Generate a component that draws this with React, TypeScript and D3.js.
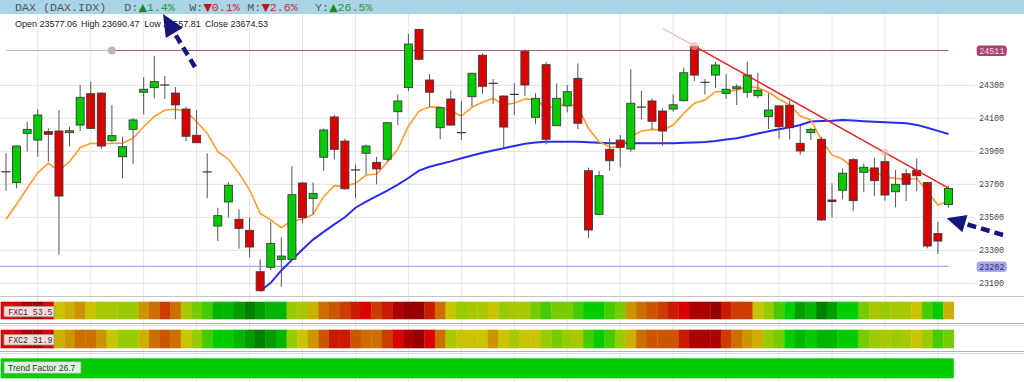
import React from 'react';
import * as d3 from 'd3';

// ---------- DATA ----------
const opens = [23776, 23710, 24009, 23968, 24019, 24023, 24013, 24059, 24249, 24253,
  23964, 23867, 24033, 24258, 24286, 24302, 24253, 24156, 23997, 23775,
  23447, 23593, 23488, 23421, 23170, 23197, 23245, 23245, 23708, 23615,
  23864, 24108, 23962, 23787, 23888, 23833, 23852, 24140, 24286, 24639,
  24332, 24043, 24217, 24013, 24231, 24482, 24312, 24235, 24245, 24504,
  24106, 24425, 24055, 24175, 24342, 23782, 23518, 23912, 23968, 23914,
  24168, 24205, 24144, 24156, 24207, 24534, 24318, 24362, 24251, 24279,
  24258, 24237, 24110, 24175, 24179, 23948, 24013, 23973, 23605, 23664,
  23849, 23773, 23799, 23837, 23655, 23764, 23785, 23710, 23401, 23577.06];
const highs = [23888, 23935, 24079, 24155, 24039, 24150, 24049, 24302, 24322, 24256,
  24181, 23989, 24100, 24349, 24479, 24356, 24290, 24170, 24149, 23888,
  23558, 23712, 23548, 23498, 23245, 23473, 23379, 23811, 23712, 23712,
  24039, 24120, 23976, 23821, 23942, 23867, 24076, 24245, 24611, 24641,
  24368, 24168, 24270, 24205, 24376, 24494, 24338, 24238, 24312, 24518,
  24251, 24443, 24312, 24302, 24433, 23801, 23781, 23979, 23999, 24397,
  24267, 24221, 24161, 24245, 24407, 24538, 24338, 24443, 24367, 24306,
  24443, 24376, 24251, 24178, 24207, 24059, 24043, 23989, 23706, 23797,
  23858, 23827, 23861, 23892, 23787, 23793, 23855, 23712, 23473, 23690.47];
const lows = [23661, 23676, 23898, 23867, 23837, 23272, 23928, 24023, 24035, 23914,
  23958, 23736, 23821, 24124, 24221, 24217, 24094, 23962, 23950, 23615,
  23356, 23500, 23310, 23258, 23052, 23181, 23079, 23243, 23464, 23518,
  23782, 23852, 23668, 23615, 23761, 23700, 23837, 24059, 24265, 24451,
  24170, 23973, 24057, 23968, 24170, 24249, 24188, 23918, 24120, 24235,
  24064, 23942, 24053, 24136, 24035, 23373, 23516, 23782, 23803, 23898,
  24094, 24035, 23934, 24140, 24201, 24326, 24245, 24282, 24217, 24181,
  24225, 24221, 24035, 23975, 23973, 23878, 23968, 23479, 23500, 23609,
  23540, 23652, 23629, 23601, 23561, 23599, 23659, 23312, 23278, 23557.81];
const closes = [23776, 23932, 24033, 24120, 24003, 23629, 24025, 24227, 24039, 23932,
  23995, 23928, 24090, 24276, 24322, 24302, 24181, 23991, 23952, 23775,
  23510, 23694, 23433, 23320, 23055, 23342, 23265, 23637, 23498, 23645,
  24029, 23912, 23673, 23787, 23932, 23793, 24073, 24205, 24550, 24458,
  24258, 24164, 24059, 24013, 24373, 24294, 24312, 24047, 24245, 24302,
  24221, 23973, 24221, 24261, 24070, 23423, 23752, 23843, 23924, 24191,
  24168, 24082, 24023, 24182, 24376, 24362, 24318, 24423, 24276, 24291,
  24362, 24270, 24150, 24049, 24043, 23902, 24033, 23484, 23595, 23767,
  23601, 23803, 23722, 23635, 23700, 23700, 23752, 23326, 23356, 23674.53];

// orange moving average (one value per candle)
const maFast = [23488, 23579, 23676, 23770, 23827, 23782, 23837, 23922, 23949, 23944,
  23949, 23949, 23979, 24049, 24110, 24150, 24155, 24144, 24079, 24009,
  23898, 23852, 23767, 23666, 23524, 23484, 23437, 23478, 23488, 23518,
  23625, 23692, 23688, 23706, 23756, 23762, 23833, 23914, 24053, 24144,
  24170, 24168, 24144, 24114, 24168, 24197, 24221, 24181, 24193, 24217,
  24215, 24161, 24173, 24189, 24167, 24039, 23958, 23926, 23922, 23989,
  24023, 24033, 24029, 24059, 24130, 24191, 24211, 24261, 24261, 24272,
  24292, 24286, 24258, 24217, 24181, 24114, 24090, 23968, 23878, 23852,
  23799, 23793, 23776, 23746, 23736, 23730, 23736, 23655, 23575, 23599];

// blue moving average, starts at candle 24
const maSlowStart = 24;
const maSlow = [23053, 23103, 23178, 23242, 23305, 23365, 23412, 23457, 23500, 23558,
  23595, 23629, 23662, 23698, 23738, 23783, 23806, 23823, 23839, 23858,
  23875, 23891, 23905, 23919, 23932, 23946, 23954, 23958, 23958, 23958,
  23958, 23955, 23952, 23949, 23949, 23949, 23949, 23949, 23949, 23949,
  23952, 23954, 23957, 23963, 23972, 23979, 23993, 24008, 24021, 24033,
  24045, 24059, 24080, 24084, 24085, 24089, 24086, 24082, 24079, 24076,
  24073, 24070, 24060, 24043, 24024, 24005];

const yTicks = [23100, 23300, 23500, 23700, 23900, 24100, 24300];
const resistanceLevel = 24511;
const resistanceAnchor = 10;
const supportLevel = 23202;

// down trendline anchors (candle index, price)
const trendAnchorIdx = [65, 83];
const trendAnchorVal = [24538, 23892];
const trendFrom = 62;
const trendTo = 89;

// FXC heat levels (0 = darkest red ... 17 = darkest green)
const fxc1 = [2, 2, 1, 0, 2, 9, 8, 7, 9, 10, 10, 11, 11, 7, 6, 4, 6, 10, 12, 13,
  15, 15, 16, 17, 16, 15, 15, 11, 10, 8, 6, 5, 4, 3, 2, 4, 3, 1, 0, 0,
  3, 6, 9, 11, 10, 10, 9, 11, 10, 10, 12, 13, 12, 12, 13, 14, 14, 13, 12, 7,
  6, 5, 4, 3, 2, 1, 1, 0, 3, 4, 4, 9, 11, 13, 14, 16, 15, 17, 16, 14,
  14, 12, 10, 11, 10, 10, 9, 13, 14, 8];
const fxc2 = [2, 2, 1, 1, 2, 8, 7, 6, 6, 7, 9, 11, 11, 8, 6, 5, 6, 9, 11, 13,
  14, 14, 15, 16, 17, 16, 15, 11, 9, 7, 5, 3, 3, 5, 6, 6, 4, 2, 1, 0,
  2, 6, 10, 9, 9, 9, 7, 9, 10, 9, 9, 11, 12, 11, 10, 13, 14, 13, 11, 8,
  6, 5, 5, 5, 3, 1, 1, 1, 4, 6, 7, 8, 11, 12, 14, 15, 14, 15, 15, 14,
  14, 12, 11, 10, 11, 10, 9, 11, 13, 12];
const levelColors = ['#990000', '#ad0000', '#dd0000', '#cc1a00', '#cc3c00', '#cc5500',
  '#cc6e00', '#cc9500', '#ccb000', '#c8c400', '#aac800', '#99cc00', '#77cc00',
  '#44cc00', '#00cc00', '#00b400', '#009c00', '#008000'];
const fxc1Value = 53.5;
const fxc2Value = 31.9;
const trendFactor = 26.7;

const symbolName = 'DAX (DAX.IDX)';
const perfLabels = ['D:', 'W:', 'M:', 'Y:'];
const perfValues = [1.4, -0.1, -2.6, 26.5];

// ---------- COMPONENT ----------
export default function App() {
  const W = 1024, H = 382;
  const n = closes.length;
  const x = d3.scaleBand<number>().domain(d3.range(n)).range([0.7, 953.8]);
  const bw = x.bandwidth();
  const cx = (i: number) => (x(i) as number) + bw / 2;
  const y = d3.scaleLinear().domain([23100, 24300]).range([283.3, 85.3]);

  const lineFast = d3.line<number>().x((_, i) => cx(i)).y((d) => y(d));
  const lineSlow = d3.line<number>().x((_, i) => cx(i + maSlowStart)).y((d) => y(d));
  const trendVal = d3.scaleLinear().domain(trendAnchorIdx).range(trendAnchorVal);

  const gridIdx = d3.range(3, n, 5);
  const mono = '"Liberation Mono", "DejaVu Sans Mono", monospace';
  const sans = '"Liberation Sans", Arial, sans-serif';

  const arrow = (tail: [number, number], tip: [number, number], hl: number, hw: number) => {
    const dx = tip[0] - tail[0], dy = tip[1] - tail[1];
    const len = Math.hypot(dx, dy);
    const ux = dx / len, uy = dy / len;
    const bx = tip[0] - ux * hl, by = tip[1] - uy * hl;
    const px = -uy, py = ux;
    return (
      <g>
        <line x1={tail[0]} y1={tail[1]} x2={bx + ux * 2} y2={by + uy * 2} stroke="#15157a" strokeWidth={4.5} strokeDasharray="9 5" />
        <polygon points={`${tip[0]},${tip[1]} ${bx + px * hw},${by + py * hw} ${bx - px * hw},${by - py * hw}`} fill="#15157a" />
      </g>
    );
  };

  const perfX = [124.3, 189.3, 247.3, 315];

  return (
    <svg width={W} height={H} style={{ position: 'absolute', left: 0, top: 0, background: '#fff' }}>
      {/* vertical grid */}
      {gridIdx.map((i) => (
        <line key={'vg' + i} x1={cx(i)} x2={cx(i)} y1={14} y2={H} stroke="#e6e6e6" strokeWidth={1} />
      ))}
      {/* horizontal grid */}
      {yTicks.map((t) => (
        <line key={'hg' + t} x1={0} x2={975} y1={y(t)} y2={y(t)} stroke="#e2e2e2" strokeWidth={1} />
      ))}
      {/* y labels */}
      {yTicks.map((t) => (
        <text key={'yl' + t} x={979} y={y(t) + 3} fontFamily={mono} fontSize={8.4} fill="#444">{t}</text>
      ))}

      {/* header bar */}
      <rect x={0} y={0} width={W} height={14} fill="#a9d4e8" />
      <text x={15} y={10.5} fontFamily={mono} fontSize={11.7} fill="#555">{symbolName}</text>
      {perfLabels.map((lb, k) => {
        const up = perfValues[k] >= 0;
        const col = up ? '#2f962f' : '#cc2a2a';
        return (
          <text key={'pf' + k} y={10.5} fontFamily={mono} fontSize={11.7}>
            <tspan x={perfX[k]} fill="#555">{lb}</tspan>
            <tspan x={perfX[k] + 14.2} fill={up ? '#1f861f' : '#c01818'} fontSize={11} fontFamily={'"DejaVu Sans", sans-serif'}>{up ? '▲' : '▼'}</tspan>
            <tspan x={perfX[k] + 22.5} fill={col}>{Math.abs(perfValues[k]).toFixed(1) + '%'}</tspan>
          </text>
        );
      })}
      {/* OHLC line */}
      <text y={26.5} fontFamily={sans} fontSize={9} fill="#222">
        <tspan x={15}>{'Open ' + opens[n - 1].toFixed(2)}</tspan>
        <tspan x={81}>{'High ' + highs[n - 1].toFixed(2)}</tspan>
        <tspan x={144.3}>{'Low ' + lows[n - 1].toFixed(2)}</tspan>
        <tspan x={205}>{'Close ' + closes[n - 1].toFixed(2)}</tspan>
      </text>

      {/* horizontal levels */}
      <line x1={cx(0)} x2={cx(resistanceAnchor)} y1={y(resistanceLevel)} y2={y(resistanceLevel)} stroke="#cfb0bb" strokeWidth={1.2} />
      <line x1={cx(resistanceAnchor)} x2={cx(n - 1)} y1={y(resistanceLevel)} y2={y(resistanceLevel)} stroke="#a3647f" strokeWidth={1.2} />
      <circle cx={cx(resistanceAnchor)} cy={y(resistanceLevel)} r={4} fill="#c0b4b8" />
      <line x1={0} x2={cx(n - 1)} y1={y(supportLevel)} y2={y(supportLevel)} stroke="#a9a9f2" strokeWidth={1.2} />
      <rect x={976.7} y={y(resistanceLevel) - 5} width={30} height={10.5} rx={3} fill="#a8446e" />
      <text x={979.3} y={y(resistanceLevel) + 3.2} fontFamily={mono} fontSize={8.4} fill="#f6d6e6">{resistanceLevel}</text>
      <rect x={976.7} y={y(supportLevel) - 5} width={30} height={10.5} rx={3} fill="#a6a6f6" />
      <text x={979.3} y={y(supportLevel) + 3.2} fontFamily={mono} fontSize={8.4} fill="#33335a">{supportLevel}</text>

      {/* moving averages */}
      <path d={lineSlow(maSlow) || ''} fill="none" stroke="#2b2bf0" strokeWidth={2} />
      <path d={lineFast(maFast) || ''} fill="none" stroke="#ff9a2e" strokeWidth={1.6} />

      {/* candles */}
      {closes.map((c, i) => {
        const o = opens[i];
        const xc = cx(i);
        const wick = <line x1={xc} x2={xc} y1={y(highs[i])} y2={y(lows[i])} stroke="#555" strokeWidth={1} />;
        if (o === c) {
          return (
            <g key={'c' + i}>
              {wick}
              <line x1={xc - 4.5} x2={xc + 4.5} y1={y(o)} y2={y(o)} stroke="#333" strokeWidth={1.2} />
            </g>
          );
        }
        const top = y(Math.max(o, c));
        const h = Math.max(1.2, Math.abs(y(o) - y(c)));
        return (
          <g key={'c' + i}>
            {wick}
            <rect x={xc - 4} y={top} width={8} height={h} fill={c > o ? '#00cc00' : '#d90000'} stroke="#3a3a3a" strokeWidth={0.9} />
          </g>
        );
      })}

      {/* trendline */}
      <line x1={cx(trendFrom)} y1={y(trendVal(trendFrom))} x2={cx(trendAnchorIdx[0])} y2={y(trendVal(trendAnchorIdx[0]))} stroke="#f2b4b4" strokeWidth={1.3} />
      <line x1={cx(trendAnchorIdx[0])} y1={y(trendVal(trendAnchorIdx[0]))} x2={cx(trendTo)} y2={y(trendVal(trendTo))} stroke="#e22626" strokeWidth={1.5} />
      <circle cx={cx(trendAnchorIdx[0])} cy={y(trendVal(trendAnchorIdx[0]))} r={4} fill="#f4a8a8" opacity={0.6} />
      <circle cx={cx(trendAnchorIdx[1])} cy={y(trendVal(trendAnchorIdx[1]))} r={4} fill="#f6b8a8" opacity={0.6} />

      {/* indicator panels */}
      <line x1={0} x2={W} y1={296.5} y2={296.5} stroke="#c4c4c4" />
      <line x1={0} x2={W} y1={323.5} y2={323.5} stroke="#b4b4b4" />
      <line x1={0} x2={W} y1={325.5} y2={325.5} stroke="#dcdcdc" />
      <line x1={0} x2={W} y1={351.5} y2={351.5} stroke="#b4b4b4" />
      <line x1={0} x2={W} y1={353.5} y2={353.5} stroke="#dcdcdc" />
      {fxc1.map((v, i) => (
        <rect key={'f1' + i} x={x(i)} y={301.7} width={bw + 0.3} height={17.6} fill={levelColors[v]} />
      ))}
      {fxc2.map((v, i) => (
        <rect key={'f2' + i} x={x(i)} y={329.7} width={bw + 0.3} height={18.6} fill={levelColors[v]} />
      ))}
      <rect x={0.7} y={358.3} width={953.1} height={20} fill="#00cc00" />

      <rect x={4} y={306.3} width={50} height={10.5} fill="#f7dcdc" stroke="#9a9a9a" strokeWidth={0.8} />
      <text x={8.3} y={314.5} fontFamily={mono} fontSize={8.2} fill="#333">{'FXC1 ' + fxc1Value}</text>
      <rect x={4} y={334.5} width={50} height={10.5} fill="#f7dcdc" stroke="#9a9a9a" strokeWidth={0.8} />
      <text x={8.3} y={342.7} fontFamily={mono} fontSize={8.2} fill="#333">{'FXC2 ' + fxc2Value}</text>
      <rect x={4} y={361.7} width={77} height={11.6} fill="#d9f7d9" stroke="#9a9a9a" strokeWidth={0.8} />
      <text x={8} y={370.6} fontFamily={sans} fontSize={8.5} fill="#333">{'Trend Factor ' + trendFactor}</text>

      {/* annotation arrows */}
      {arrow([195, 67], [163, 14], 22, 10)}
      {arrow([1003, 235], [946.7, 218.3], 19, 9)}
    </svg>
  );
}
